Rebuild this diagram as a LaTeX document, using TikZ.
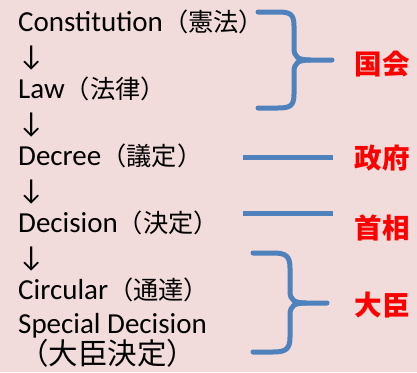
\documentclass[tikz,border=0pt]{standalone}
\usepackage{fontspec}
\setmainfont{Carlito}
\newfontfamily\jp[Scale=0.87]{Noto Sans CJK JP}
\newfontfamily\jpl{Noto Sans CJK JP}
\definecolor{bgpink}{HTML}{F2DCDB}
\definecolor{brblue}{HTML}{4F81BD}
\definecolor{lblred}{HTML}{FF0000}
\begin{document}
\begin{tikzpicture}[x=1pt,y=-1pt,
  line/.style={anchor=base west,inner sep=0pt,font=\fontsize{29}{31}\selectfont,text=black},
  lbl/.style={anchor=center,inner sep=0pt,font=\fontsize{27.5}{30}\selectfont\jpl\bfseries,text=lblred},
  bluestroke/.style={draw=brblue,line width=5pt,line cap=round,line join=round}]
\fill[bgpink] (0,0) rectangle (417,372);
\useasboundingbox (0,0) rectangle (417,372);
\node[line] (l1) at (18,31.5) {Constitution{\jp（憲法）}};
\node[line] (a1) at (18,65) {↓};
\node[line] (l2) at (18,98.5) {Law{\jp（法律）}};
\node[line] (a2) at (18,132) {↓};
\node[line] (l3) at (18,165.5) {Decree{\jp（議定）}};
\node[line] (a3) at (18,199) {↓};
\node[line] (l4) at (18,232.5) {Decision{\jp（決定）}};
\node[line] (a4) at (18,266) {↓};
\node[line] (l5) at (18,299.5) {Circular{\jp（通達）}};
\node[line] (l6) at (18,333) {Special Decision};
\node[line,font=\fontsize{29.5}{31}\selectfont\jpl] (l7) at (19,364.5) {（大臣決定）};
\node[lbl] (k1) at (382,64.5) {国会};
\node[lbl] (k2) at (382,158.5) {政府};
\node[lbl] (k3) at (382,228) {首相};
\node[lbl] (k4) at (382,305.5) {大臣};
% brace 1
\draw[bluestroke] (258,12) -- (278,12) .. controls (290,12) and (294,14) .. (294,26) -- (294,48)
  .. controls (294,57) and (298,60) .. (310,60) -- (332,60);
\draw[bluestroke] (258,108) -- (278,108) .. controls (290,108) and (294,106) .. (294,94) -- (294,72)
  .. controls (294,63) and (298,60) .. (310,60);
% lines
\draw[bluestroke,line cap=butt] (243,157) -- (333,157);
\draw[bluestroke,line cap=butt] (243,213) -- (333,213);
% brace 2
\draw[bluestroke] (253,253) -- (273,253) .. controls (286,253) and (290,256) .. (290,268) -- (290,291)
  .. controls (290,300) and (294,303) .. (306,303) -- (327,303);
\draw[bluestroke] (253,352) -- (273,352) .. controls (286,352) and (290,349) .. (290,337) -- (290,315)
  .. controls (290,306) and (294,303) .. (306,303);
\end{tikzpicture}
\end{document}
